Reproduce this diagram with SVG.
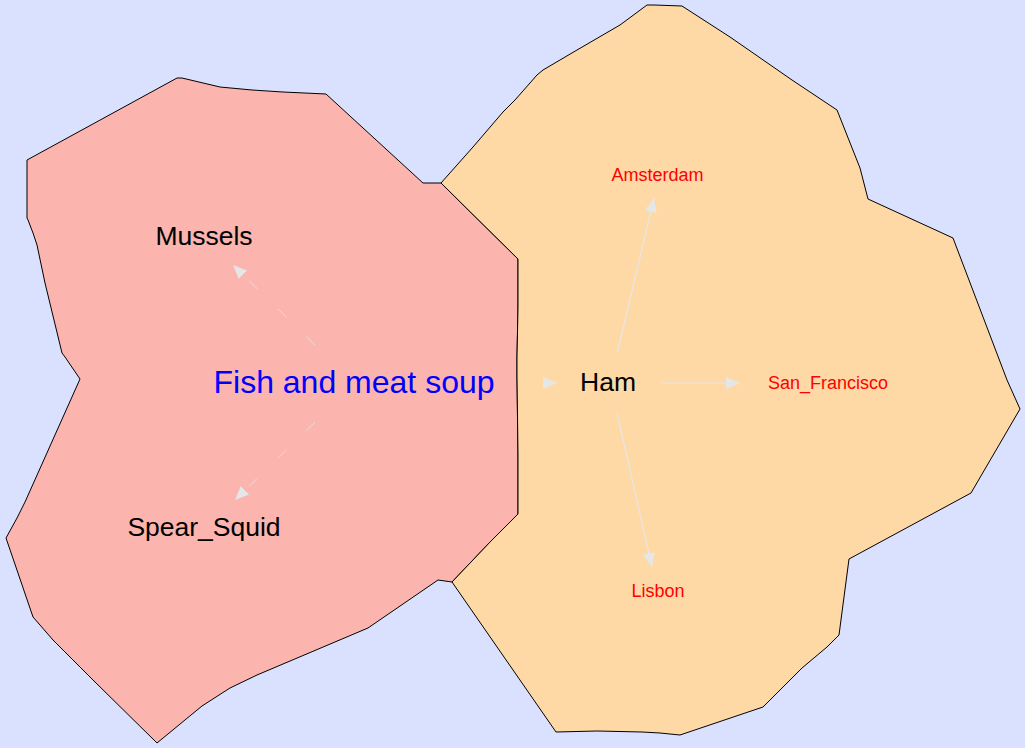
<svg xmlns="http://www.w3.org/2000/svg" width="1025" height="748" viewBox="0 0 1025 748">
<style>
.region{stroke:#000;stroke-width:1}
.edge{fill:none;stroke:#e6e6e6;stroke-width:1.2}
.dot{stroke-dasharray:12 28;stroke-width:0.8}
.big{font-family:"Liberation Sans",Arial,sans-serif;font-size:32px;fill:#0000ff;text-anchor:middle}
.mid{font-family:"Liberation Sans",Arial,sans-serif;font-size:26.5px;fill:#000;text-anchor:middle}
.small{font-family:"Liberation Sans",Arial,sans-serif;font-size:18px;fill:#ff0000;text-anchor:middle}
</style>
<defs>
<marker id="arr" markerUnits="userSpaceOnUse" markerWidth="14" markerHeight="12" refX="14" refY="6" orient="auto" viewBox="0 0 14 12">
<path d="M0,0 L14,6 L0,12 z" fill="#e6e6e6"/>
</marker>
</defs>
<rect width="1025" height="748" fill="#dae1ff"/>
<g id="region-fish">
<polygon class="region" fill="#fbb4ae" points="27,160 177,78 182,78 220,87 252,90 283,92 326,94 423,183 441,183 518,259 518,307 517,357 517,377 518,455 518,514 492,540 452,582 438,580 368,628 257,675 230,688 202,706 157,743 93,680 53,640 33,617 6,538 17,518 25,502 80,379 65,357 62,353 45,283 37,245 33,233 28,220 27,218"/>
</g>
<g id="region-ham">
<polygon class="region" fill="#fed9a6" points="441,183 473,147 503,112 515,100 537,75 543,70 577,50 620,25 647,5 654,5 682,6 730,37 792,80 837,110 860,168 868,199 953,238 1007,380 1020,409 971,493 849,559 839,635 827,647 802,668 763,707 680,735 660,733 642,732 597,731 556,732 452,582 492,540 518,514 518,455 517,377 517,357 518,307 518,259"/>
</g>
<g id="connectors">
<path class="edge dot" d="M315,345 L233,265" marker-end="url(#arr)"/>
<path class="edge dot" d="M315,422 L235,500" marker-end="url(#arr)"/>
<path class="edge" d="M543,383 L557,383" marker-end="url(#arr)"/>
<path class="edge" d="M617.5,352 L654,198" marker-end="url(#arr)"/>
<path class="edge" d="M662,383 L740,383" marker-end="url(#arr)"/>
<path class="edge" d="M617,413 L652,567" marker-end="url(#arr)"/>
</g>
<g id="node-fish"><text class="big" x="354" y="393">Fish and meat soup</text></g>
<g id="node-mussels"><text class="mid" x="204" y="245">Mussels</text></g>
<g id="node-spear"><text class="mid" x="204" y="536">Spear_Squid</text></g>
<g id="node-ham"><text class="mid" x="608" y="391">Ham</text></g>
<g id="node-amsterdam"><text class="small" x="657.5" y="181">Amsterdam</text></g>
<g id="node-sf"><text class="small" x="828" y="389">San_Francisco</text></g>
<g id="node-lisbon"><text class="small" x="658" y="597">Lisbon</text></g>
</svg>
